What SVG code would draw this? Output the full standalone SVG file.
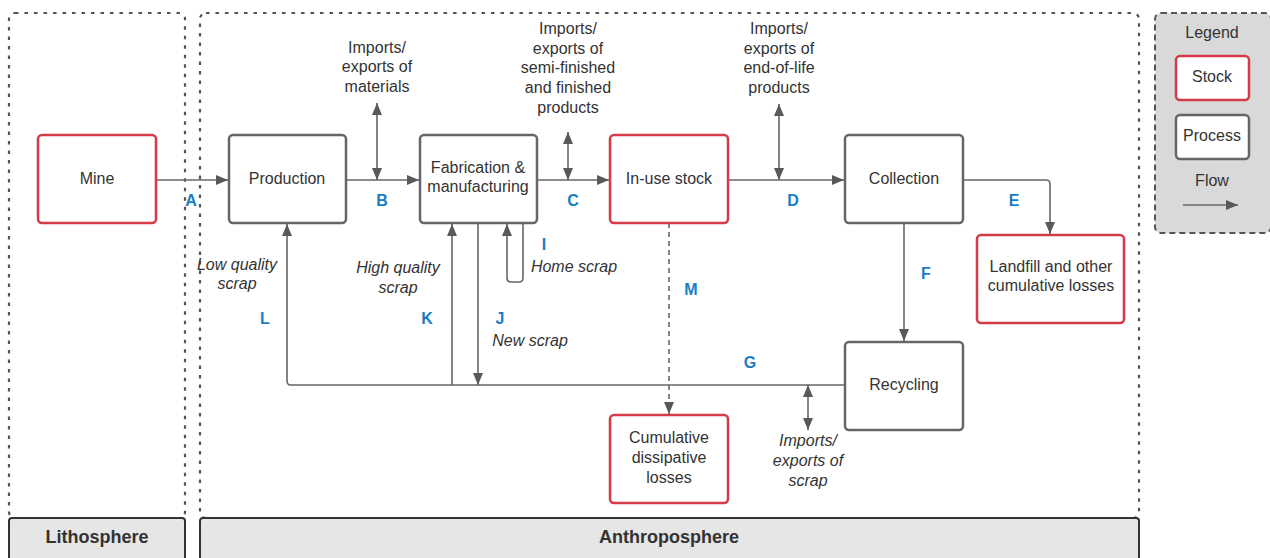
<svg xmlns="http://www.w3.org/2000/svg" width="1270" height="558" viewBox="0 0 1270 558">
<defs>
<marker id="ah" viewBox="0 0 12 10" refX="12" refY="5" markerWidth="12" markerHeight="10" markerUnits="userSpaceOnUse" orient="auto-start-reverse">
<path d="M0,0 L12,5 L0,10 z" fill="#595959"/>
</marker>
<style>
.cont{fill:none;stroke:#555;stroke-width:2.2;stroke-dasharray:3.5 6}
.band{fill:#e6e6e6;stroke:#333;stroke-width:2}
.bandt{font-family:"Liberation Sans",Arial,sans-serif;font-size:18px;font-weight:bold;fill:#333;text-anchor:middle}
.stock{fill:#fff;stroke:#d43b47;stroke-width:2.5}
.proc{fill:#fff;stroke:#666;stroke-width:2.5}
.t{font-family:"Liberation Sans",Arial,sans-serif;font-size:16px;fill:#333;text-anchor:middle}
.it{font-family:"Liberation Sans",Arial,sans-serif;font-size:16px;fill:#333;text-anchor:middle;font-style:italic}
.lbl{font-family:"Liberation Sans",Arial,sans-serif;font-size:16px;font-weight:bold;fill:#1a7dc4;text-anchor:middle}
.c{fill:none;stroke:#666;stroke-width:1.6}
.a{marker-end:url(#ah)}
.d{marker-start:url(#ah);marker-end:url(#ah)}
</style>
</defs>

<g id="containers">
<rect class="cont" x="9" y="13" width="176" height="505" rx="6"/>
<rect class="cont" x="200" y="13" width="939" height="505" rx="6"/>
<rect class="band" x="9" y="518" width="176" height="50" rx="3"/>
<rect class="band" x="200" y="518" width="939" height="50" rx="3"/>
<text class="bandt" x="97" y="543">Lithosphere</text>
<text class="bandt" x="669" y="543">Anthroposphere</text>
</g>

<g id="legend">
<rect x="1155" y="13" width="116" height="220" rx="6" fill="#d9d9d9" stroke="#555" stroke-width="2" stroke-dasharray="6 4"/>
<text class="t" x="1212" y="38">Legend</text>
<rect class="stock" x="1176" y="56" width="73" height="44" rx="4"/>
<text class="t" x="1212" y="82">Stock</text>
<rect class="proc" x="1176" y="115" width="73" height="44" rx="4"/>
<text class="t" x="1212" y="141">Process</text>
<text class="t" x="1212" y="186">Flow</text>
<line class="c a" x1="1183" y1="205" x2="1238" y2="205" stroke="#333"/>
</g>

<g id="connectors">
<line class="c a" x1="156" y1="180" x2="228" y2="180"/>
<line class="c a" x1="346" y1="180" x2="419" y2="180"/>
<line class="c d" x1="377" y1="103" x2="377" y2="180"/>
<line class="c a" x1="537" y1="180" x2="609" y2="180"/>
<line class="c d" x1="568" y1="132" x2="568" y2="180"/>
<line class="c a" x1="728" y1="180" x2="844" y2="180"/>
<line class="c d" x1="779" y1="104" x2="779" y2="180"/>
<path class="c a" d="M963,180 H1046 Q1050,180 1050,184 V234"/>
<line class="c a" x1="904" y1="223" x2="904" y2="341"/>
<path class="c a" d="M845,385 H291 Q287,385 287,381 V224"/>
<line class="c a" x1="452" y1="385" x2="452" y2="224"/>
<line class="c a" x1="478" y1="223" x2="478" y2="385"/>
<path class="c a" d="M523,223 V278 Q523,282 519,282 H511 Q507,282 507,278 V224"/>
<line class="c a" x1="669" y1="223" x2="669" y2="414" stroke-dasharray="5 4"/>
<line class="c d" x1="808" y1="385" x2="808" y2="430"/>
</g>

<g id="node-mine">
<rect class="stock" x="38" y="135" width="118" height="88" rx="4"/>
<text class="t" x="97" y="184">Mine</text>
</g>
<g id="node-production">
<rect class="proc" x="229" y="135" width="117" height="88" rx="4"/>
<text class="t" x="287" y="184">Production</text>
</g>
<g id="node-fabrication">
<rect class="proc" x="420" y="135" width="117" height="88" rx="4"/>
<text class="t" x="478" y="173">Fabrication &amp;</text>
<text class="t" x="478" y="192">manufacturing</text>
</g>
<g id="node-inuse">
<rect class="stock" x="610" y="135" width="118" height="88" rx="4"/>
<text class="t" x="669" y="184">In-use stock</text>
</g>
<g id="node-collection">
<rect class="proc" x="845" y="135" width="118" height="88" rx="4"/>
<text class="t" x="904" y="184">Collection</text>
</g>
<g id="node-landfill">
<rect class="stock" x="977" y="235" width="147" height="88" rx="4"/>
<text class="t" x="1051" y="272">Landfill and other</text>
<text class="t" x="1051" y="291">cumulative losses</text>
</g>
<g id="node-recycling">
<rect class="proc" x="845" y="342" width="118" height="88" rx="4"/>
<text class="t" x="904" y="390">Recycling</text>
</g>
<g id="node-dissipative">
<rect class="stock" x="610" y="415" width="118" height="88" rx="4"/>
<text class="t" x="669" y="443">Cumulative</text>
<text class="t" x="669" y="463">dissipative</text>
<text class="t" x="669" y="483">losses</text>
</g>

<g id="labels">
<text class="t" x="377" y="53">Imports/</text>
<text class="t" x="377" y="72">exports of</text>
<text class="t" x="377" y="92">materials</text>
<text class="t" x="568" y="34">Imports/</text>
<text class="t" x="568" y="54">exports of</text>
<text class="t" x="568" y="73">semi-finished</text>
<text class="t" x="568" y="93">and finished</text>
<text class="t" x="568" y="113">products</text>
<text class="t" x="779" y="34">Imports/</text>
<text class="t" x="779" y="54">exports of</text>
<text class="t" x="779" y="73">end-of-life</text>
<text class="t" x="779" y="93">products</text>
<text class="it" x="237" y="270">Low quality</text>
<text class="it" x="237" y="289">scrap</text>
<text class="it" x="398" y="273">High quality</text>
<text class="it" x="398" y="293">scrap</text>
<text class="it" x="574" y="272">Home scrap</text>
<text class="it" x="530" y="346">New scrap</text>
<text class="it" x="808" y="446">Imports/</text>
<text class="it" x="808" y="466">exports of</text>
<text class="it" x="808" y="486">scrap</text>
<text class="lbl" x="191" y="206">A</text>
<text class="lbl" x="382" y="206">B</text>
<text class="lbl" x="573" y="206">C</text>
<text class="lbl" x="793" y="206">D</text>
<text class="lbl" x="1014" y="206">E</text>
<text class="lbl" x="926" y="279">F</text>
<text class="lbl" x="750" y="368">G</text>
<text class="lbl" x="544" y="250">I</text>
<text class="lbl" x="500" y="324">J</text>
<text class="lbl" x="427" y="324">K</text>
<text class="lbl" x="265" y="324">L</text>
<text class="lbl" x="691" y="295">M</text>
</g>
</svg>
